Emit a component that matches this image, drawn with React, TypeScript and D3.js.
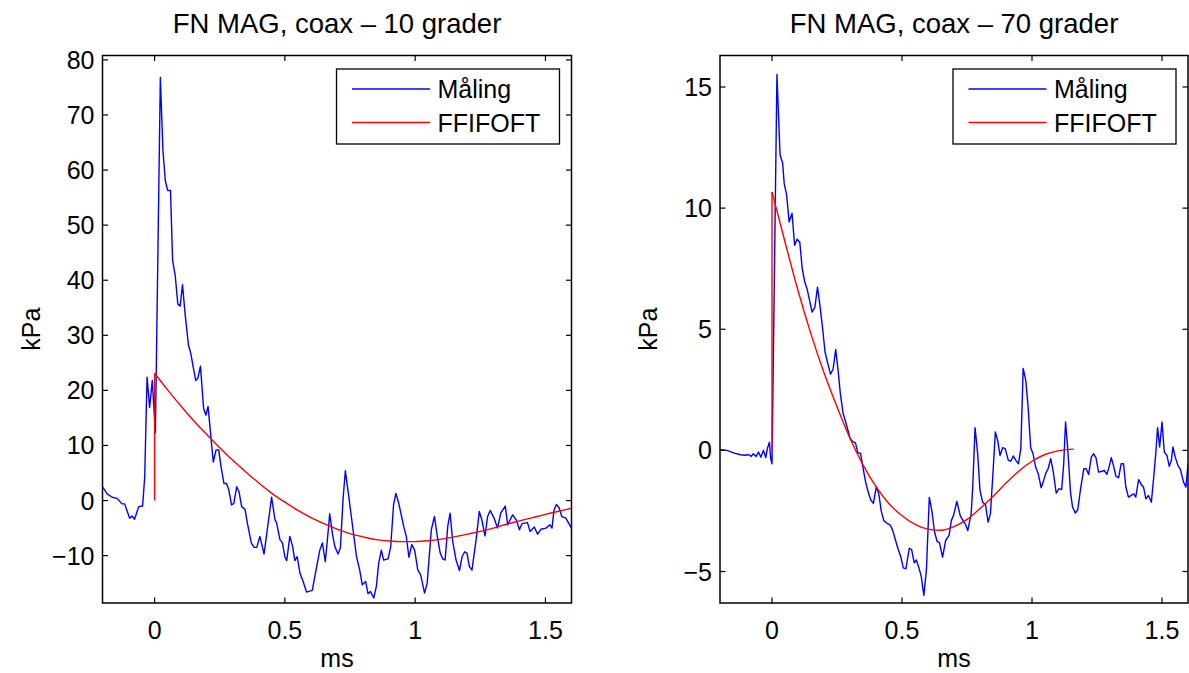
import * as d3 from "d3";

type Pt = [number, number];

// x limits shared by both panels (ms)
const xLimits: Pt = [-0.2, 1.6];
const xTicks = [0, 0.5, 1, 1.5];

const titles = ["FN MAG, coax \u2013 10 grader", "FN MAG, coax \u2013 70 grader"];
const legendLabels = ["M\u00e5ling", "FFIFOFT"];

const yLimitsLeft: Pt = [-18.6, 80.8];
const yTicksLeft = [-10, 0, 10, 20, 30, 40, 50, 60, 70, 80];
const yLimitsRight: Pt = [-6.3, 16.3];
const yTicksRight = [-5, 0, 5, 10, 15];

// measured signal, 10 degrees (ms, kPa)
const malingLeft: Pt[] = [
  [-0.2, 2.5], [-0.182, 1.2], [-0.163, 0.6], [-0.144, 0.4], [-0.125, -0.6], [-0.115, -0.6],
  [-0.096, -3.2], [-0.087, -2.8], [-0.077, -3.4], [-0.061, -1.1], [-0.046, -1.0], [-0.038, 4.3],
  [-0.029, 22.4], [-0.019, 16.9], [-0.009, 21.8], [0.003, 12.3], [0.022, 76.8], [0.032, 63.5],
  [0.041, 58.1], [0.05, 56.3], [0.061, 56.3], [0.069, 43.6], [0.079, 40.9], [0.089, 35.7],
  [0.098, 35.3], [0.107, 39.2], [0.117, 33.9], [0.13, 28.2], [0.139, 26.7], [0.149, 24.0],
  [0.158, 21.8], [0.166, 22.2], [0.176, 24.4], [0.188, 16.7], [0.197, 15.5], [0.205, 17.1],
  [0.216, 11.6], [0.225, 7.0], [0.236, 9.2], [0.246, 9.2], [0.255, 6.1], [0.266, 3.1],
  [0.276, 3.1], [0.285, 1.9], [0.295, -0.8], [0.304, -0.5], [0.315, 2.5], [0.324, 1.6],
  [0.334, -1.1], [0.347, -1.6], [0.356, -4.1], [0.371, -7.7], [0.382, -8.5], [0.392, -8.5],
  [0.404, -6.5], [0.42, -9.7], [0.449, 0.6], [0.462, -3.5], [0.468, -4.0], [0.481, -7.1],
  [0.49, -7.6], [0.5, -10.2], [0.507, -10.9], [0.519, -6.5], [0.53, -8.4], [0.538, -10.9],
  [0.547, -10.2], [0.558, -13.2], [0.57, -14.7], [0.583, -16.6], [0.592, -16.5], [0.605, -16.3],
  [0.622, -12.0], [0.634, -9.0], [0.644, -7.7], [0.655, -11.1], [0.662, -7.7], [0.672, -2.4],
  [0.683, -6.2], [0.692, -8.4], [0.704, -9.7], [0.713, -8.6], [0.723, 0.1], [0.732, 5.4],
  [0.742, 1.9], [0.755, -2.9], [0.775, -10.2], [0.787, -12.6], [0.797, -15.3], [0.81, -14.7],
  [0.819, -16.9], [0.828, -16.5], [0.841, -17.7], [0.851, -15.6], [0.86, -11.4], [0.87, -9.0],
  [0.879, -10.8], [0.896, -10.6], [0.906, -8.4], [0.917, -0.8], [0.926, 1.3], [0.937, -0.5],
  [0.956, -4.7], [0.966, -6.5], [0.976, -10.3], [0.987, -8.0], [0.998, -9.0], [1.01, -12.6],
  [1.021, -13.5], [1.036, -16.8], [1.046, -15.0], [1.062, -5.3], [1.074, -2.9], [1.085, -6.5],
  [1.096, -9.5], [1.106, -10.6], [1.115, -10.8], [1.125, -4.7], [1.134, -2.3], [1.144, -7.4],
  [1.157, -10.8], [1.17, -12.7], [1.18, -10.2], [1.19, -9.3], [1.199, -9.6], [1.208, -12.0],
  [1.218, -12.6], [1.234, -7.1], [1.246, -2.0], [1.256, -3.5], [1.268, -6.4], [1.278, -2.9],
  [1.288, -1.8], [1.303, -3.2], [1.316, -5.0], [1.329, -2.2], [1.346, -1.0], [1.355, -4.4],
  [1.374, -2.6], [1.389, -3.6], [1.4, -5.3], [1.41, -4.2], [1.431, -4.0], [1.441, -5.6],
  [1.457, -4.8], [1.47, -6.1], [1.483, -5.2], [1.502, -5.0], [1.517, -4.4], [1.525, -5.0],
  [1.533, -1.7], [1.542, -0.7], [1.553, -1.4], [1.563, -2.9], [1.578, -3.2], [1.6, -5.0],
];

// fitted curve, 10 degrees
const fitLeft: Pt[] = [
  [0, 0], [0, 23.1], [0.05, 20.1], [0.1, 17.2], [0.15, 14.5], [0.2, 12.0], [0.25, 9.6],
  [0.3, 7.3], [0.35, 5.2], [0.4, 3.2], [0.45, 1.3], [0.5, -0.3], [0.55, -1.8], [0.6, -3.1],
  [0.65, -4.2], [0.7, -5.2], [0.75, -6.0], [0.8, -6.6], [0.85, -7.1], [0.9, -7.35],
  [0.95, -7.45], [1.0, -7.45], [1.05, -7.3], [1.1, -7.0], [1.15, -6.6], [1.2, -6.1],
  [1.25, -5.6], [1.3, -5.0], [1.35, -4.3], [1.4, -3.7], [1.45, -3.1], [1.5, -2.5],
  [1.55, -1.95], [1.6, -1.4],
];

// measured signal, 70 degrees
const malingRight: Pt[] = [
  [-0.2, 0.03], [-0.173, 0], [-0.148, -0.1], [-0.122, -0.18], [-0.103, -0.2], [-0.091, -0.17],
  [-0.08, -0.25], [-0.072, -0.14], [-0.061, -0.25], [-0.052, -0.07], [-0.043, -0.28], [-0.033, 0],
  [-0.024, -0.3], [-0.018, 0.07], [-0.01, 0.34], [-0.005, -0.34], [0.0, -0.55], [0.019, 15.52],
  [0.031, 12.2], [0.041, 11.85], [0.047, 11.0], [0.056, 10.57], [0.066, 9.43], [0.077, 9.79],
  [0.087, 8.47], [0.097, 8.72], [0.107, 8.58], [0.116, 7.52], [0.126, 6.95], [0.135, 6.66],
  [0.145, 6.17], [0.154, 5.71], [0.165, 5.91], [0.175, 6.74], [0.184, 6.02], [0.194, 5.1],
  [0.204, 4.06], [0.214, 3.61], [0.225, 3.15], [0.235, 3.35], [0.245, 4.17], [0.254, 3.32],
  [0.263, 2.33], [0.273, 1.55], [0.283, 1.19], [0.292, 0.83], [0.301, 0.48], [0.311, 0.36],
  [0.321, 0.31], [0.33, -0.09], [0.341, -0.13], [0.349, -0.66], [0.36, -1.3], [0.37, -1.72],
  [0.38, -2.05], [0.39, -2.19], [0.401, -1.51], [0.411, -1.8], [0.42, -2.5], [0.43, -2.9],
  [0.441, -3.0], [0.454, -3.07], [0.464, -3.29], [0.475, -3.71], [0.485, -4.07], [0.495, -4.38],
  [0.505, -4.85], [0.515, -4.89], [0.528, -4.04], [0.537, -4.1], [0.547, -4.64], [0.555, -4.52],
  [0.564, -4.81], [0.574, -5.2], [0.584, -5.99], [0.594, -4.92], [0.605, -1.94], [0.615, -2.5],
  [0.625, -3.36], [0.635, -3.76], [0.644, -3.81], [0.656, -4.41], [0.668, -3.72], [0.681, -3.51],
  [0.69, -2.89], [0.698, -2.69], [0.711, -2.11], [0.724, -2.69], [0.734, -2.89], [0.743, -3.03],
  [0.753, -3.31], [0.766, -2.62], [0.772, -1.52], [0.781, 0.94], [0.791, -0.14], [0.8, -1.65],
  [0.81, -2.14], [0.821, -2.23], [0.831, -2.96], [0.84, -2.62], [0.849, -1.1], [0.859, 0.76],
  [0.868, 0.41], [0.877, -0.21], [0.887, 0.11], [0.897, 0.07], [0.909, -0.41], [0.919, -0.44],
  [0.928, -0.23], [0.938, -0.41], [0.948, -0.55], [0.957, 0.07], [0.966, 3.38], [0.976, 2.89],
  [0.985, 1.79], [0.995, 0.11], [1.004, -0.14], [1.014, -0.69], [1.024, -0.96], [1.035, -1.54],
  [1.043, -1.31], [1.053, -0.94], [1.062, -0.76], [1.072, -0.34], [1.082, -0.9], [1.093, -1.76],
  [1.104, -1.58], [1.114, -1.62], [1.122, -0.55], [1.129, 1.17], [1.137, 0.14], [1.148, -1.72],
  [1.156, -2.34], [1.167, -2.59], [1.176, -2.45], [1.186, -1.65], [1.199, -0.76], [1.208, -0.76],
  [1.218, -0.99], [1.228, -0.28], [1.237, -0.14], [1.246, -0.3], [1.256, -0.9], [1.269, -0.86],
  [1.278, -0.83], [1.288, -0.99], [1.297, -0.66], [1.305, -0.3], [1.314, -0.66], [1.323, -1.07],
  [1.333, -1.13], [1.343, -0.55], [1.352, -0.55], [1.361, -1.52], [1.371, -1.93], [1.382, -1.86],
  [1.391, -1.79], [1.399, -1.93], [1.41, -1.21], [1.42, -1.4], [1.429, -1.52], [1.438, -2.0],
  [1.448, -1.86], [1.459, -2.14], [1.467, -1.24], [1.476, -0.14], [1.483, 0.94], [1.491, 0.14],
  [1.5, 1.17], [1.509, -0.07], [1.519, -0.21], [1.528, -0.66], [1.536, -0.41], [1.542, 0.14],
  [1.551, -0.28], [1.561, -0.62], [1.57, -0.76], [1.583, -1.31], [1.592, -1.52], [1.6, -0.55],
];

// fitted curve, 70 degrees
const fitRight: Pt[] = [
  [0, 0], [0, 10.67], [0.05, 8.6], [0.1, 6.6], [0.15, 4.8], [0.2, 3.2], [0.25, 1.8],
  [0.3, 0.5], [0.35, -0.6], [0.4, -1.5], [0.45, -2.2], [0.5, -2.7], [0.55, -3.05],
  [0.6, -3.25], [0.65, -3.3], [0.7, -3.15], [0.75, -2.85], [0.8, -2.4], [0.85, -1.9],
  [0.9, -1.35], [0.95, -0.85], [1.0, -0.45], [1.05, -0.17], [1.1, -0.02], [1.16, 0.05],
];

const FONT = "'Liberation Sans', Arial, Helvetica, sans-serif";
const TOP = 55.5;
const BOTTOM = 603;
const TICK = 5.5;

const fmt = (v: number) => (v < 0 ? "\u2212" + Math.abs(v) : String(v));

interface PanelProps {
  id: string;
  left: number;
  right: number;
  title: string;
  yDomain: Pt;
  yTicks: number[];
  maling: Pt[];
  fit: Pt[];
}

function Panel({ id, left, right, title, yDomain, yTicks, maling, fit }: PanelProps) {
  const x = d3.scaleLinear().domain(xLimits).range([left, right]);
  const y = d3.scaleLinear().domain(yDomain).range([BOTTOM, TOP]);
  const line = d3.line<Pt>().x(d => x(d[0])).y(d => y(d[1]));
  const vertical = fit.slice(0, 2);
  const curve = d3.line<Pt>().x(d => x(d[0])).y(d => y(d[1])).curve(d3.curveMonotoneX);
  const midX = (left + right) / 2;
  const midY = (TOP + BOTTOM) / 2;

  // legend box, anchored to the upper right corner
  const lx1 = right - 12;
  const lx0 = lx1 - 223;
  const ly0 = 69;
  const ly1 = 144;
  const rows = [ly0 + 20, ly0 + 53.5];

  return (
    <g>
      <defs>
        <clipPath id={id}>
          <rect x={left} y={TOP} width={right - left} height={BOTTOM - TOP} />
        </clipPath>
      </defs>
      <text x={midX} y={33} textAnchor="middle" fontSize={27.5}>{title}</text>

      <g clipPath={`url(#${id})`} fill="none" strokeWidth={1.4} strokeLinejoin="round">
        <path d={line(maling) ?? ""} stroke="#0000ff" />
        <path d={line(vertical) ?? ""} stroke="#ff0000" />
        <path d={curve(fit.slice(1)) ?? ""} stroke="#ff0000" />
      </g>

      {/* ticks on all four sides, pointing inward */}
      <g stroke="#000" strokeWidth={1.2}>
        {xTicks.map(t => (
          <g key={`x${t}`}>
            <line x1={x(t)} x2={x(t)} y1={BOTTOM} y2={BOTTOM - TICK} />
            <line x1={x(t)} x2={x(t)} y1={TOP} y2={TOP + TICK} />
          </g>
        ))}
        {yTicks.map(t => (
          <g key={`y${t}`}>
            <line x1={left} x2={left + TICK} y1={y(t)} y2={y(t)} />
            <line x1={right} x2={right - TICK} y1={y(t)} y2={y(t)} />
          </g>
        ))}
      </g>
      <rect x={left} y={TOP} width={right - left} height={BOTTOM - TOP} fill="none" stroke="#000" strokeWidth={1.5} />

      <g fontSize={25}>
        {xTicks.map(t => (
          <text key={`xl${t}`} x={x(t)} y={639} textAnchor="middle">{fmt(t)}</text>
        ))}
        {yTicks.map(t => (
          <text key={`yl${t}`} x={left - 8} y={y(t)} dy="0.36em" textAnchor="end">{fmt(t)}</text>
        ))}
        <text x={midX} y={667} textAnchor="middle">ms</text>
        <text transform={`translate(${left - 63},${midY}) rotate(-90)`} textAnchor="middle">kPa</text>
      </g>

      <rect x={lx0} y={ly0} width={lx1 - lx0} height={ly1 - ly0} fill="#fff" stroke="#000" strokeWidth={1.3} />
      {legendLabels.map((lab, i) => (
        <g key={lab}>
          <line x1={lx0 + 15.5} x2={lx0 + 93.5} y1={rows[i]} y2={rows[i]}
            stroke={i === 0 ? "#0000ff" : "#ff0000"} strokeWidth={1.4} />
          <text x={lx0 + 101} y={rows[i]} dy="0.36em" fontSize={25}>{lab}</text>
        </g>
      ))}
    </g>
  );
}

export default function App() {
  return (
    <svg width={1189} height={673} style={{ position: "absolute", left: 0, top: 0, background: "#fff" }}
      fontFamily={FONT}>
      <rect width={1189} height={673} fill="#fff" />
      <Panel id="clipL" left={102.5} right={571.5} title={titles[0]} yDomain={yLimitsLeft}
        yTicks={yTicksLeft} maling={malingLeft} fit={fitLeft} />
      <Panel id="clipR" left={720} right={1188} title={titles[1]} yDomain={yLimitsRight}
        yTicks={yTicksRight} maling={malingRight} fit={fitRight} />
    </svg>
  );
}
